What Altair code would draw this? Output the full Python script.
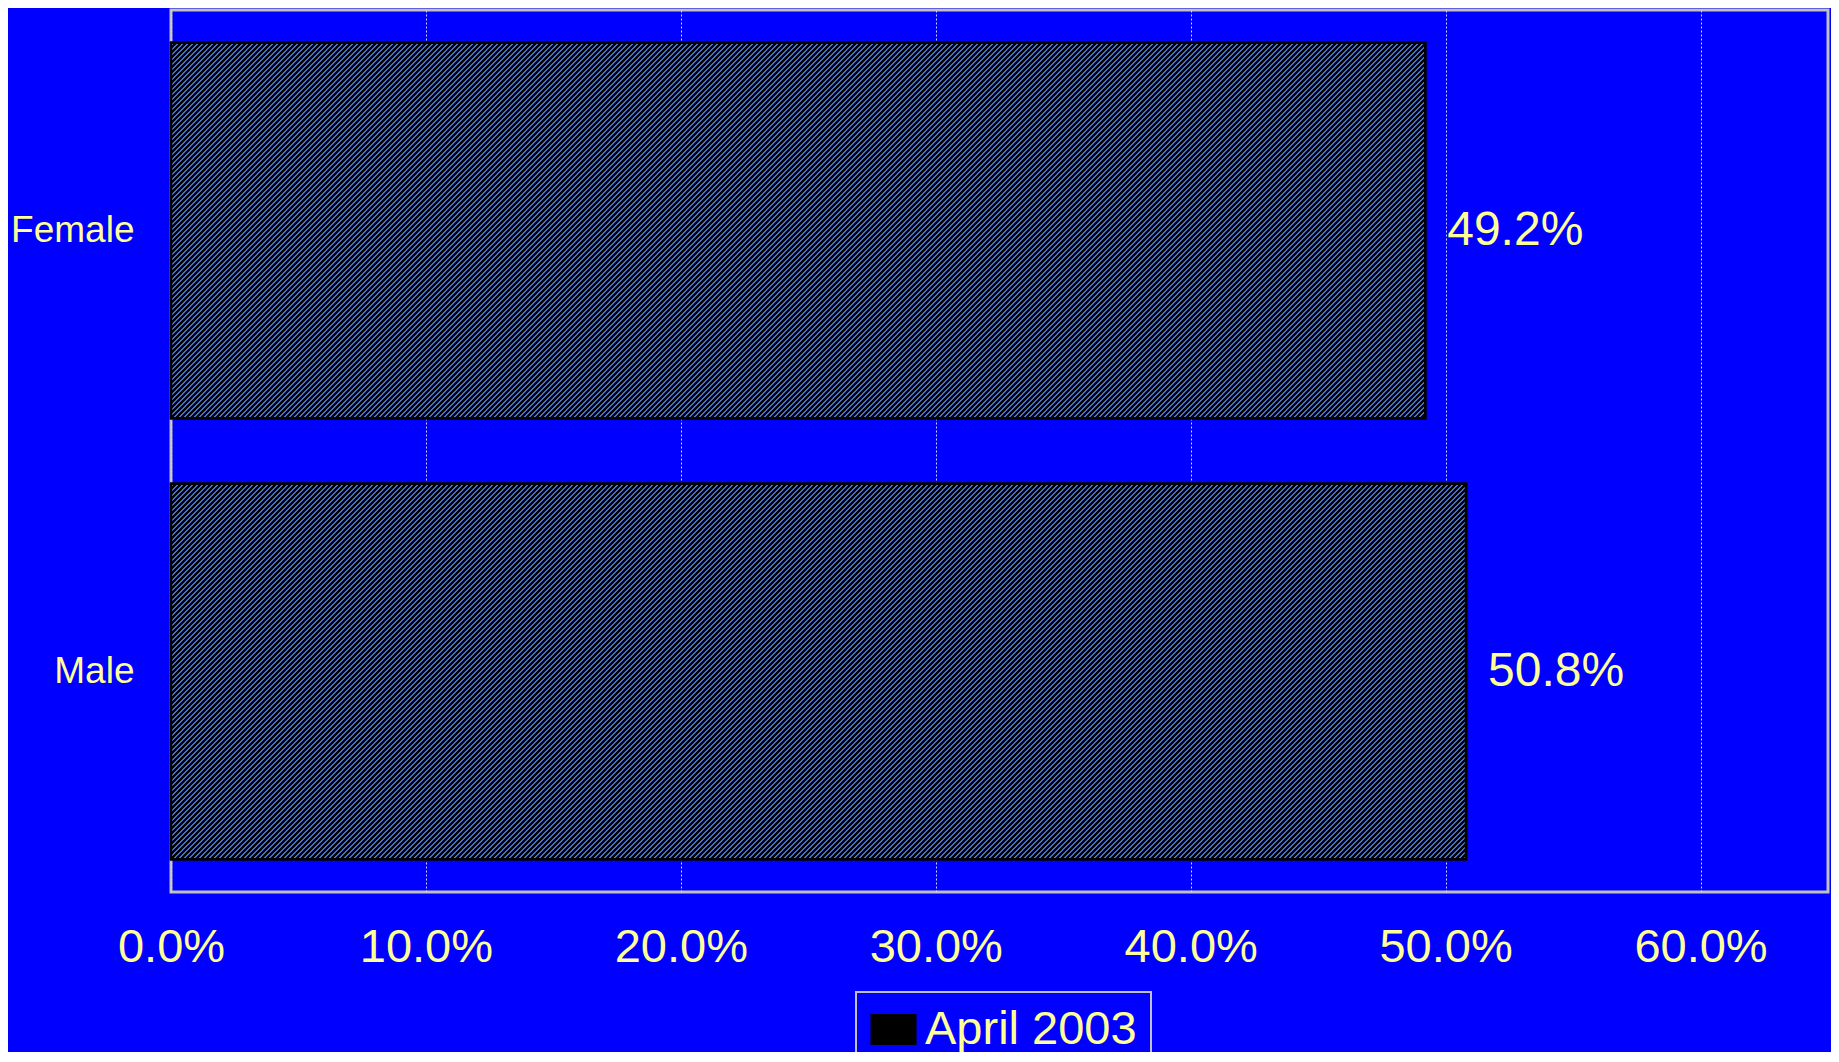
import altair as alt
import pandas as pd

# ---- data ----
categories = ["Female", "Male"]
values = [0.492, 0.508]
series = ["April 2003", "April 2003"]
x_ticks = [0.0, 0.1, 0.2, 0.3, 0.4, 0.5, 0.6]
x_max = 0.65

df = pd.DataFrame({"category": categories, "value": values, "series": series})

# ---- layout ----
PLOT_W = 1657
PLOT_H = 882
PAD_INNER = 0.149
PAD_OUTER = 0.0745
step = PLOT_H / (len(categories) - PAD_INNER + 2 * PAD_OUTER)
bar_h = step * (1 - PAD_INNER)

BG = "#0000FF"
TXT = "#FFFF99"
FONT = "Liberation Sans"


def hatch(w, h, period=5.0, line=1.5, bg="#000000", fg="#4272cc"):
    """Diagonal '/' hatch emulated with a striped linear gradient."""
    total = w + h
    stops = []
    pos = period / 2
    while pos - line / 2 < total:
        a = max(0.0, (pos - line / 2) / total)
        b = min(1.0, (pos + line / 2) / total)
        stops += [
            {"offset": a, "color": bg},
            {"offset": a, "color": fg},
            {"offset": b, "color": fg},
            {"offset": b, "color": bg},
        ]
        pos += period
    alpha = w * (w + h) / (w * w + h * h)
    return alt.LinearGradient(
        gradient="linear", stops=stops, x1=0, y1=0, x2=alpha, y2=alpha * h / w
    )


x_enc = alt.X(
    "value:Q",
    scale=alt.Scale(domain=[0, x_max], nice=False, zero=True),
    axis=alt.Axis(
        values=x_ticks,
        format=".1%",
        labelFontSize=47,
        labelColor=TXT,
        labelFont=FONT,
        labelPadding=32,
        labelFlush=False,
        labelOverlap=False,
        domain=False,
        ticks=False,
        grid=True,
        gridColor="#d0d0ff",
        gridDash=[2, 2],
        gridWidth=1,
        title=None,
    ),
)
y_enc = alt.Y(
    "category:N",
    sort=categories,
    scale=alt.Scale(paddingInner=PAD_INNER, paddingOuter=PAD_OUTER),
    axis=alt.Axis(
        labelFontSize=37,
        labelColor=TXT,
        labelFont=FONT,
        labelPadding=37,
        domain=False,
        ticks=False,
        grid=False,
        title=None,
    ),
)

base = alt.Chart(df)

legend_bars = base.mark_bar(stroke="#000000", strokeWidth=2.5).encode(
    x=x_enc,
    y=y_enc,
    color=alt.Color(
        "series:N",
        scale=alt.Scale(range=["#000000"]),
        legend=alt.Legend(
            orient="none",
            legendX=685,
            legendY=982,
            title=None,
            labelFontSize=47,
            labelColor=TXT,
            labelFont=FONT,
            labelLimit=0,
            symbolType="M-1,-0.674H1V0.674H-1Z",
            symbolSize=2116,
            symbolStrokeWidth=0,
            padding=14,
            labelOffset=8,
            strokeColor="#c0c0c0",
        ),
    ),
)

hatched = []
for cat, val in zip(categories, values):
    w = val / x_max * PLOT_W
    hatched.append(
        base.transform_filter(alt.datum.category == cat)
        .mark_bar(fill=hatch(w, bar_h), stroke="#000000", strokeWidth=2.5)
        .encode(x=x_enc, y=y_enc)
    )

labels = base.mark_text(
    align="left", baseline="middle", dx=22, fontSize=48, color=TXT, font=FONT
).encode(x=x_enc, y=y_enc, text=alt.Text("value:Q", format=".1%"))

chart = (
    alt.layer(legend_bars, *hatched, labels)
    .properties(
        width=PLOT_W,
        height=PLOT_H,
        background=BG,
        autosize=alt.AutoSizeParams(type="none"),
        padding={"left": 163, "top": 2, "right": 3, "bottom": 160},
    )
    .configure_view(stroke="#c0c0c0", strokeWidth=3)
    .configure_legend(strokeWidth=2)
)

chart.save("out.html", embed_options={"renderer": "svg", "actions": False})
